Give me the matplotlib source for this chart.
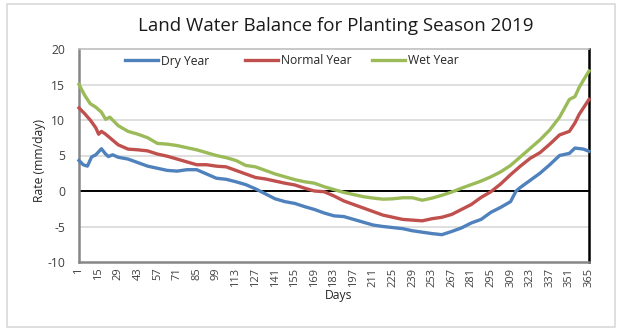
import matplotlib
matplotlib.use("Agg")
import matplotlib.pyplot as plt
from matplotlib.lines import Line2D
from matplotlib.patches import Rectangle

plt.rcParams['font.family'] = ['Open Sans', 'DejaVu Sans']

title = "Land Water Balance for Planting Season 2019"
series_names = ["Dry Year", "Normal Year", "Wet Year"]
series_colors = ["#4F81BD", "#C0504D", "#9BBB59"]

dry_days = [1, 4, 7, 10, 13, 17, 20, 22, 25, 29, 36, 43, 50, 57, 64, 71, 78, 85, 92, 99,
            106, 113, 120, 127, 134, 141, 148, 155, 162, 169, 176, 183, 190, 197, 204,
            211, 218, 225, 232, 239, 246, 253, 260, 267, 274, 281, 288, 295, 302, 309,
            313, 316, 323, 330, 337, 344, 351, 355, 361, 365]
dry_vals = [4.3, 3.7, 3.5, 4.8, 5.1, 5.95, 5.2, 4.85, 5.1, 4.75, 4.5, 4.0, 3.5, 3.2, 2.9,
            2.8, 3.0, 3.0, 2.4, 1.8, 1.65, 1.3, 0.9, 0.3, -0.4, -1.1, -1.5, -1.75, -2.2,
            -2.6, -3.1, -3.5, -3.6, -4.0, -4.4, -4.8, -5.0, -5.15, -5.3, -5.6, -5.8, -6.0,
            -6.15, -5.7, -5.2, -4.5, -4.0, -3.0, -2.3, -1.5, 0.0, 0.5, 1.5, 2.5, 3.7, 5.0,
            5.3, 6.05, 5.9, 5.6]

normal_days = [1, 5, 9, 13, 15, 17, 20, 23, 29, 36, 43, 50, 57, 64, 71, 78, 85, 92, 99,
               106, 113, 120, 127, 134, 141, 148, 155, 162, 169, 176, 183, 190, 197, 204,
               211, 218, 225, 232, 239, 246, 253, 260, 267, 274, 281, 288, 295, 302, 309,
               316, 323, 330, 337, 344, 351, 355, 358, 361, 365]
normal_vals = [11.7, 10.9, 10.0, 8.9, 8.0, 8.4, 8.0, 7.5, 6.5, 5.9, 5.8, 5.65, 5.2, 4.9,
               4.5, 4.1, 3.7, 3.7, 3.5, 3.4, 2.9, 2.4, 1.9, 1.7, 1.4, 1.1, 0.85, 0.4, 0.0,
               -0.1, -0.7, -1.4, -1.9, -2.4, -2.9, -3.4, -3.7, -4.0, -4.1, -4.2, -3.9, -3.7,
               -3.3, -2.6, -1.9, -0.9, -0.1, 1.0, 2.3, 3.5, 4.6, 5.4, 6.6, 7.9, 8.4, 9.6,
               10.8, 11.7, 12.9]

wet_days = [1, 5, 9, 13, 17, 20, 23, 29, 36, 43, 50, 57, 64, 71, 78, 85, 92, 99, 106,
            113, 120, 127, 134, 141, 148, 155, 162, 169, 176, 183, 190, 197, 204, 211,
            218, 225, 232, 239, 246, 253, 260, 267, 274, 281, 288, 295, 302, 309, 316,
            323, 330, 337, 344, 351, 355, 358, 361, 365]
wet_vals = [15.0, 13.5, 12.3, 11.8, 11.1, 10.1, 10.4, 9.2, 8.4, 8.0, 7.5, 6.7, 6.6, 6.4,
            6.1, 5.8, 5.4, 5.0, 4.7, 4.3, 3.6, 3.4, 2.9, 2.4, 2.0, 1.6, 1.3, 1.1, 0.6, 0.2,
            -0.2, -0.5, -0.8, -1.0, -1.15, -1.1, -0.95, -0.95, -1.3, -1.0, -0.6, -0.15,
            0.4, 0.9, 1.4, 2.0, 2.7, 3.6, 4.8, 6.0, 7.2, 8.6, 10.4, 12.9, 13.3, 14.6,
            15.6, 16.9]

x_ticks = list(range(1, 366, 14))
y_ticks = [-10, -5, 0, 5, 10, 15, 20]

W, H = 623, 331
fig = plt.figure(figsize=(W / 100, H / 100), dpi=100)

# outer chart border
fig.patches.append(Rectangle((7 / W, 1 - 327 / H), (615 - 7) / W, (327 - 4) / H,
                             transform=fig.transFigure, fill=False,
                             edgecolor="#D9D9D9", linewidth=1.2))

ax = fig.add_axes([79 / W, 1 - 262 / H, (589 - 79) / W, (262 - 49) / H])

for yv in [-5, 5, 10, 15]:
    ax.axhline(yv, color="#D9D9D9", lw=1.2, zorder=1)
ax.axhline(0, color="black", lw=1.4, zorder=2)

all_days = [dry_days, normal_days, wet_days]
all_vals = [dry_vals, normal_vals, wet_vals]
for d, v, c in zip(all_days, all_vals, series_colors):
    ax.plot(d, v, color=c, lw=2.4, solid_joinstyle="round", zorder=3, clip_on=False)

ax.set_xlim(1, 365)
ax.set_ylim(-10, 20)
ax.set_xticks(x_ticks)
ax.set_xticklabels([str(t) for t in x_ticks], rotation=90, fontsize=8, color="#404040")
ax.set_yticks(y_ticks)
ax.set_yticklabels([str(t) for t in y_ticks], fontsize=8.7, color="#404040")
ax.tick_params(axis="x", length=0, pad=4)
ax.tick_params(axis="y", length=0, pad=10)

ax.spines["left"].set_color("#868686")
ax.spines["left"].set_linewidth(1.8)
ax.spines["bottom"].set_color("#868686")
ax.spines["bottom"].set_linewidth(1.8)
ax.spines["right"].set_color("black")
ax.spines["right"].set_linewidth(1.8)
ax.spines["top"].set_color("#BFBFBF")
ax.spines["top"].set_linewidth(1.2)

fig.text(336 / W, 1 - 26 / H, title, ha="center", va="center", fontsize=13.5, color="#1a1a1a")
fig.text(40 / W, 1 - 160 / H, "Rate (mm/day)", rotation=90, ha="center", va="center",
         fontsize=8.7, color="#262626")
fig.text(339 / W, 1 - 296 / H, "Days", ha="center", va="center", fontsize=8.7, color="#262626")

# legend entries, each placed at its own position
leg_x = [125, 245, 372]
for name, c, lx in zip(series_names, series_colors, leg_x):
    h = Line2D([], [], color=c, lw=2.4)
    lg = fig.legend([h], [name], loc="center left", bbox_to_anchor=(lx / W, 1 - 61 / H),
                    frameon=False, fontsize=8.7, handlelength=2.7, handletextpad=0.25,
                    borderpad=0, borderaxespad=0)
    for t in lg.get_texts():
        t.set_color("#262626")

fig.savefig("out.png", dpi=100)
